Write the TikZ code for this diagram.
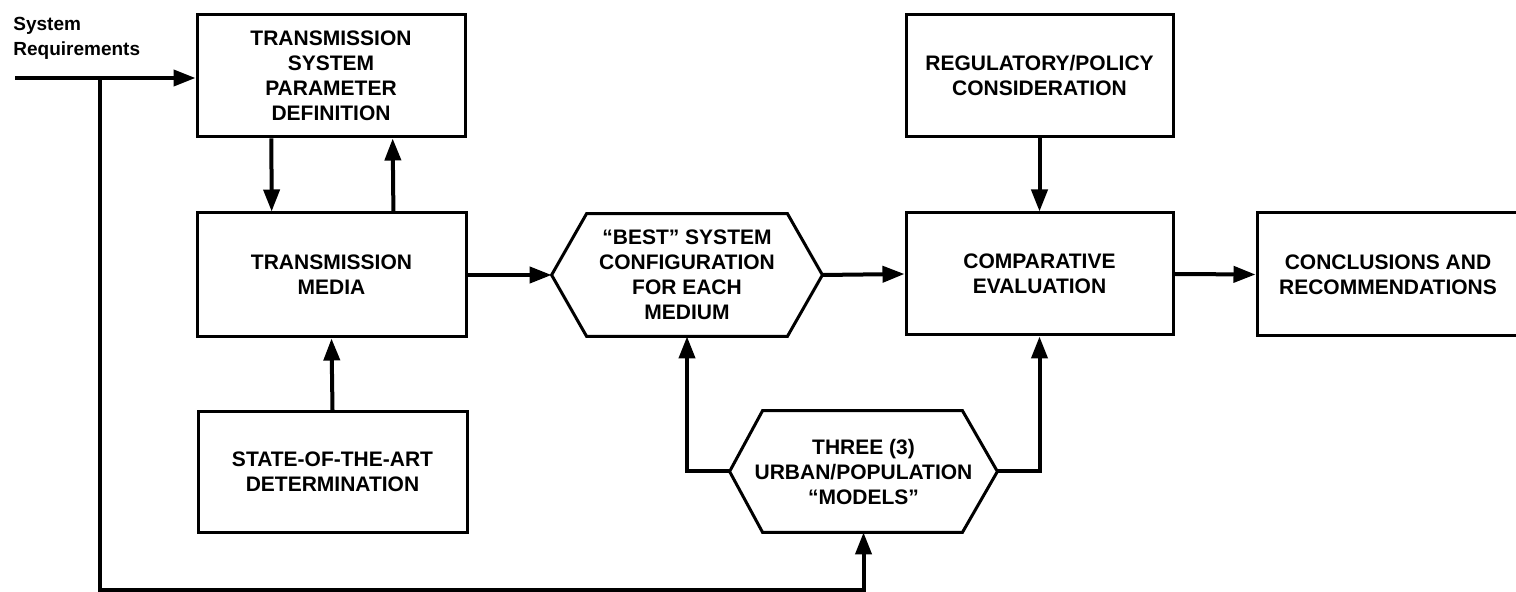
\documentclass[tikz,border=0pt]{standalone}
\usepackage{fontspec}
\setmainfont{Liberation Sans}
\usetikzlibrary{arrows.meta,calc}
\begin{document}
\begin{tikzpicture}[x=0.5pt,y=-0.5pt,
  txt/.style={align=center, inner sep=0pt, font=\bfseries\fontsize{10.5}{12.5}\selectfont},
  box/.style={txt, draw, rectangle, line width=1.5pt},
  hexa/.style={txt},
  hexline/.style={line width=1.5pt},
  arr/.style={line width=2pt, -{Triangle[length=11pt,width=8pt]}},
  ln/.style={line width=2pt}]
\useasboundingbox (0,0) rectangle (1516,592);
\clip (0,0) rectangle (1516,592);
% boxes
\node[box, minimum width=134pt, minimum height=61pt] (tspd) at (331,76) {TRANSMISSION\\SYSTEM\\PARAMETER\\DEFINITION};
\node[box, minimum width=134.5pt, minimum height=62pt] (media) at (331.5,275) {TRANSMISSION\\MEDIA};
\node[box, minimum width=134.5pt, minimum height=60.5pt] (sota) at (332.5,472) {STATE-OF-THE-ART\\DETERMINATION};
\node[box, minimum width=133.5pt, minimum height=61pt] (reg) at (1039.5,76) {REGULATORY/POLICY\\CONSIDERATION};
\node[box, minimum width=133.5pt, minimum height=61pt] (comp) at (1039.5,274) {COMPARATIVE\\EVALUATION};
\node[box, minimum width=131pt, minimum height=61.5pt] (concl) at (1388,274.5) {CONCLUSIONS AND\\RECOMMENDATIONS};
% hexagons
\node[hexa, minimum width=135pt, minimum height=61pt] (best) at (687,275) {“BEST” SYSTEM\\CONFIGURATION\\FOR EACH\\MEDIUM};
\draw[hexline] (best.west) -- ([xshift=17.5pt]best.north west) -- ([xshift=-17.5pt]best.north east) -- (best.east) -- ([xshift=-17.5pt]best.south east) -- ([xshift=17.5pt]best.south west) -- cycle;
\node[hexa, minimum width=133.5pt, minimum height=60.5pt] (models) at (863.5,471.5) {THREE (3)\\URBAN/POPULATION\\“MODELS”};
\draw[hexline] (models.west) -- ([xshift=16.5pt]models.north west) -- ([xshift=-17.5pt]models.north east) -- (models.east) -- ([xshift=-17.5pt]models.south east) -- ([xshift=16.5pt]models.south west) -- cycle;
% input label
\node[anchor=north west, align=left, inner sep=0pt, font=\bfseries\fontsize{9.5}{12.5}\selectfont] (sysreq) at (13,17) {System\\Requirements};
\coordinate (sr) at (15,78);
\coordinate (jn) at (100,78);
\coordinate (bot) at (100,590);
% connectors
\draw[arr] (sr) -- (sr -| tspd.west);
\draw[arr] (jn) -- (bot) -| (models.south);
\draw[arr] ($(tspd.south west)!0.28!(tspd.south east)$) -- ($(media.north west)!0.28!(media.north east)$);
\draw[arr] ($(media.north west)!0.7276!(media.north east)$) -- ($(tspd.south west)!0.7276!(tspd.south east)$);
\draw[arr] (sota.north) -- (media.south);
\draw[arr] (media.east) -- (best.west);
\draw[arr] (best.east) -- (comp.west);
\draw[arr] (reg.south) -- (comp.north);
\draw[arr] (comp.east) -- (concl.west);
\draw[arr] (models.west) -| (best.south);
\draw[arr] (models.east) -| (comp.south);
\end{tikzpicture}
\end{document}
